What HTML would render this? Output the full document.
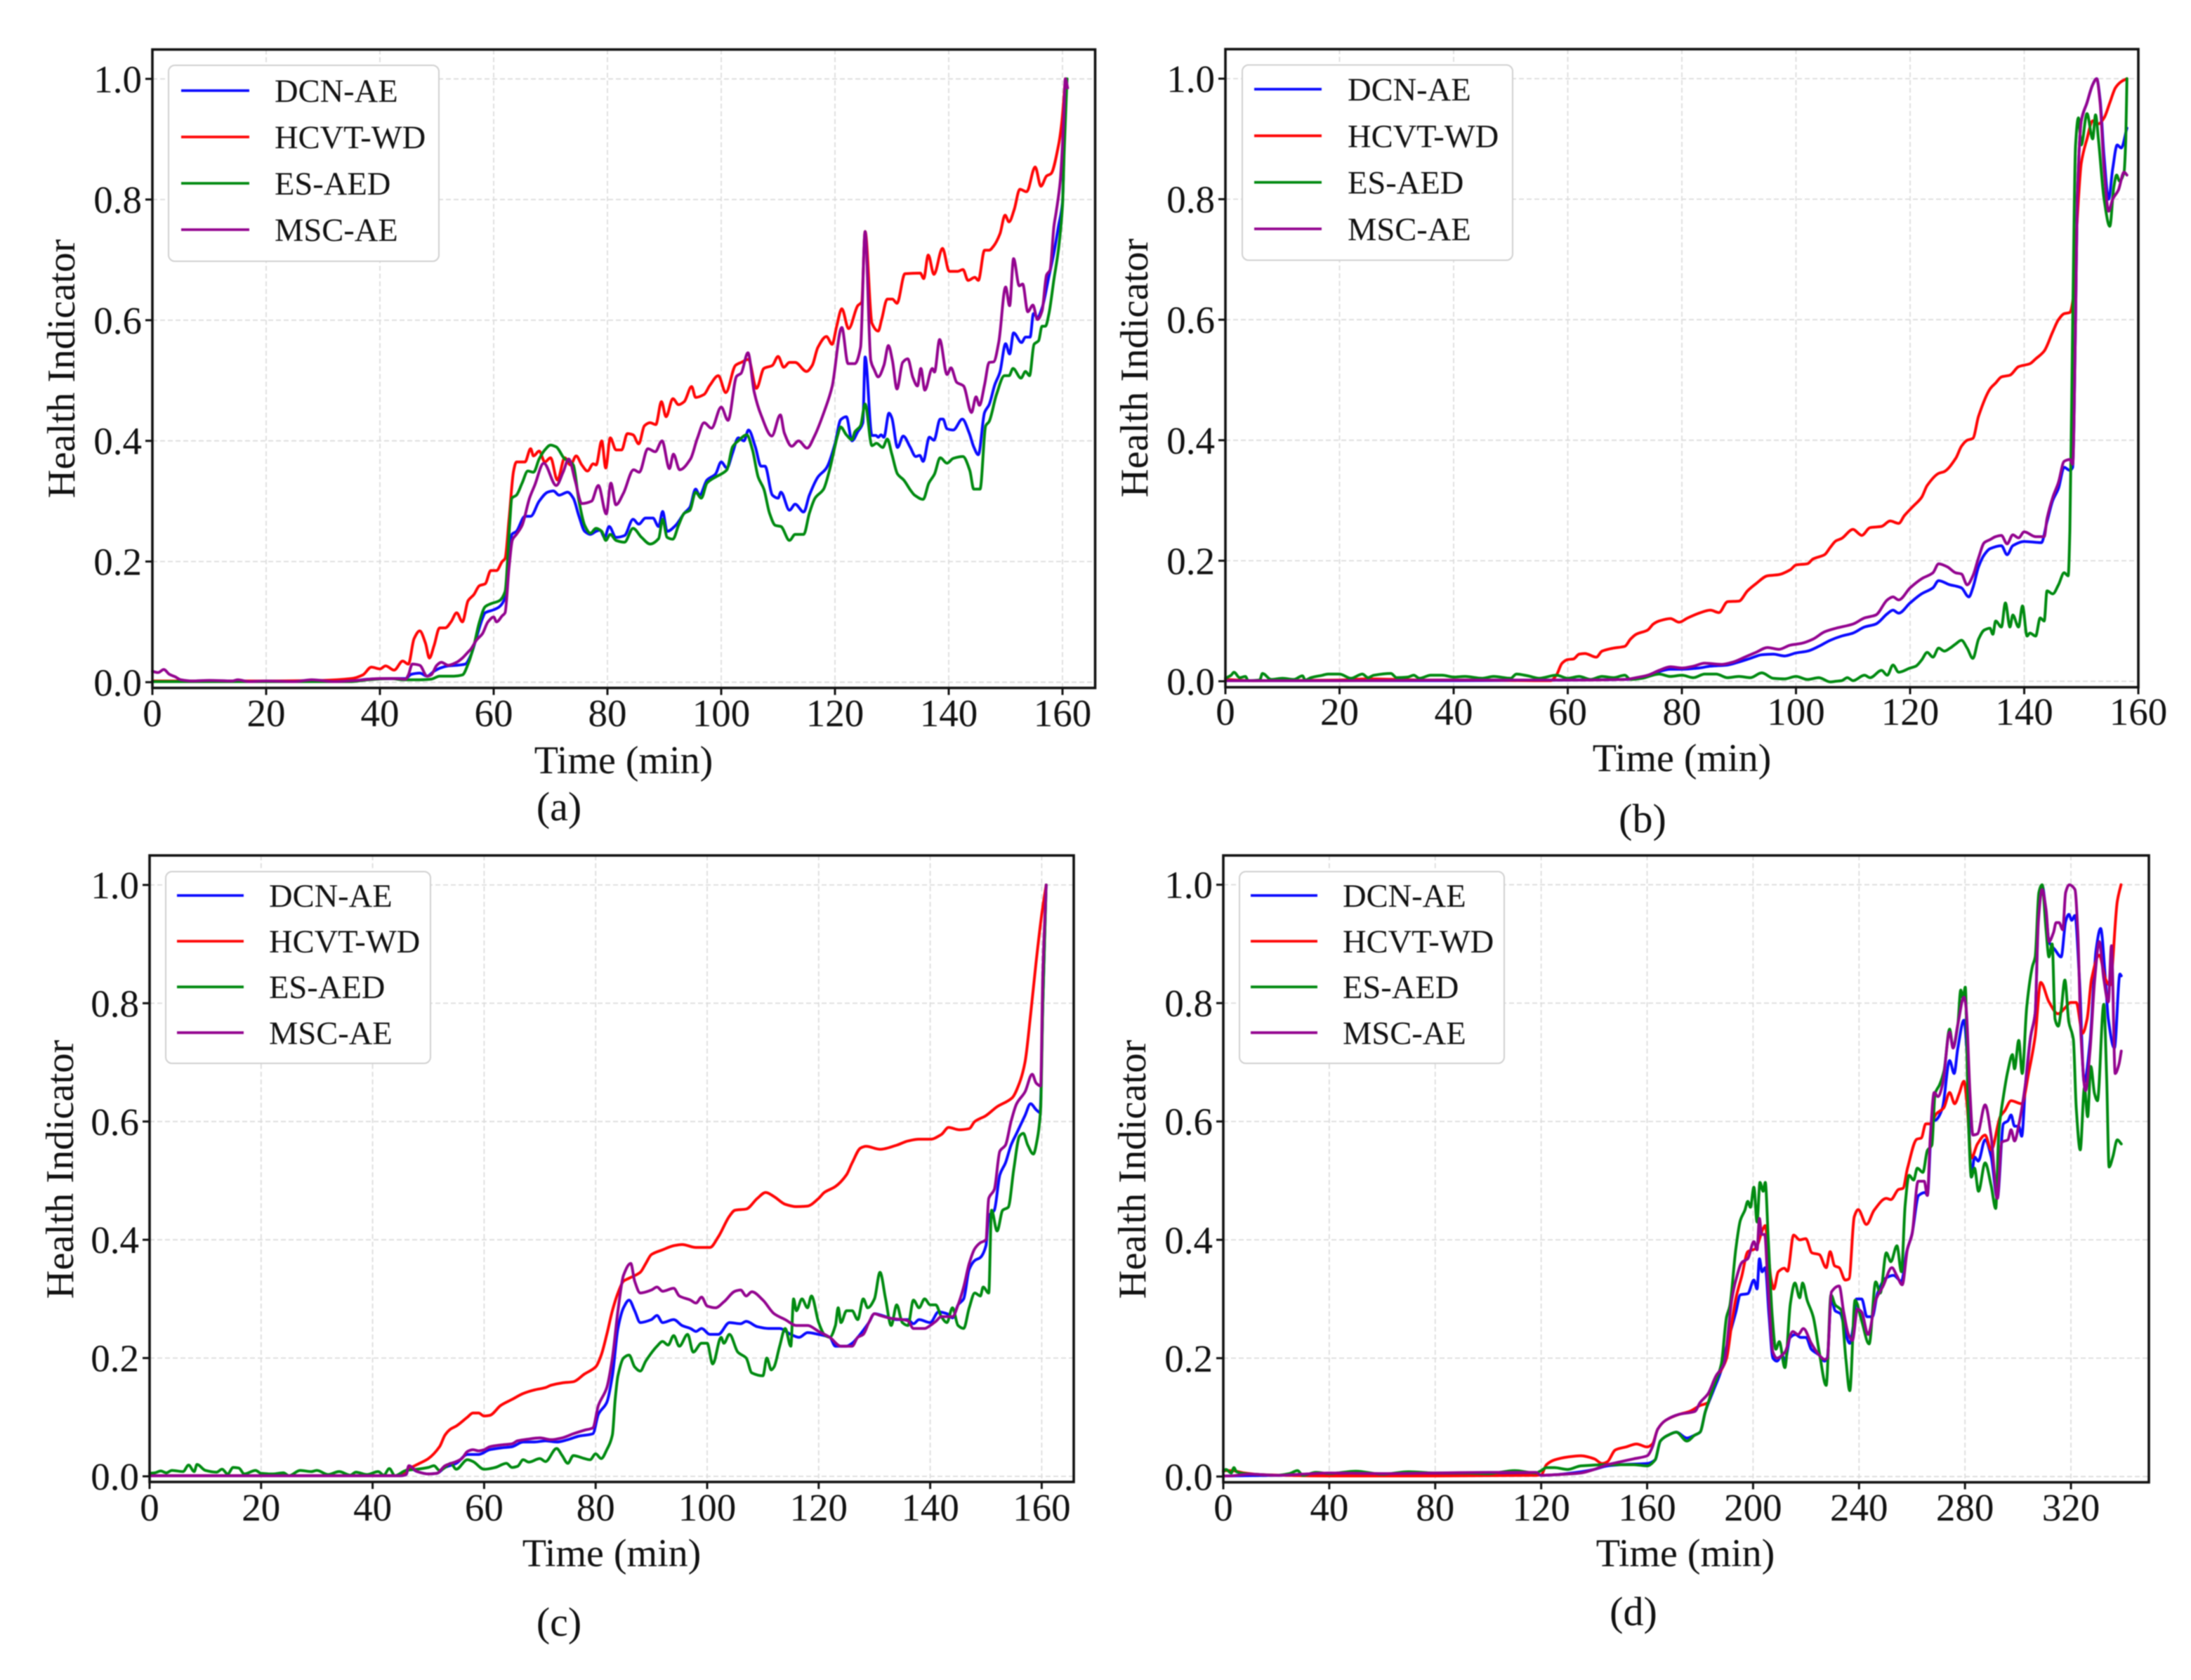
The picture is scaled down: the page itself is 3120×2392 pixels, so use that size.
<!DOCTYPE html>
<html lang="en">
<head>
<meta charset="utf-8">
<title>Health Indicator comparison</title>
<style>
html,body{margin:0;padding:0;background:#fff;}
svg{display:block;filter:blur(0.7px);font-family:"Liberation Serif",serif;}
</style>
</head>
<body>
<svg id="figure" xmlns="http://www.w3.org/2000/svg" width="3120" height="2392" viewBox="0 0 3120 2392"></svg>
<script>
// Tick labels
const xTicksStd = [0,20,40,60,80,100,120,140,160];
const xTicksLong = [0,40,80,120,160,200,240,280,320];
const yTicks = [0,0.2,0.4,0.6,0.8,1.0];
const seriesNames = ["DCN-AE","HCVT-WD","ES-AED","MSC-AE"];

// Panel (a): [time, health indicator]
const aDcn = [[0,.001],[20,.001],[35,.002],[38,.005],[43,.006],[44.5,.006],[45.5,.013],[47,.015],[48.3,.01],[49.5,.018],[50.5,.023],[52,.027],[53.5,.028],[55,.03],[56,.045],[57,.075],[58,.105],[58.5,.115],[60,.12],[61,.125],[62,.14],[62.7,.2],[63.2,.245],[64,.25],[65.5,.275],[66.5,.275],[68,.3],[69.5,.315],[70.5,.317],[71.5,.31],[73,.315],[74,.305],[75,.275],[76,.25],[77,.245],[78,.25],[78.7,.252],[79.5,.24],[80.3,.258],[81.5,.24],[83,.243],[84.5,.27],[85.5,.262],[86.7,.272],[88,.272],[89,.258],[89.7,.283],[90.5,.25],[92,.26],[93.5,.28],[94.5,.29],[95.5,.32],[96.2,.31],[97.5,.335],[99,.345],[100,.365],[101,.355],[102,.38],[103,.405],[104,.4],[104.8,.418],[106,.39],[107,.358],[107.7,.358],[109,.31],[110,.305],[110.5,.315],[112,.285],[113,.295],[114.5,.282],[115.5,.31],[117,.34],[118.5,.355],[120,.395],[121,.435],[122,.44],[123,.4],[124,.415],[124.9,.43],[125.3,.539],[126.5,.409],[127.2,.409],[127.6,.406],[128.1,.41],[128.6,.406],[129.5,.446],[130,.438],[131,.389],[132,.408],[133.2,.39],[134.2,.374],[134.9,.376],[135.5,.366],[136.6,.406],[137.4,.401],[138.5,.436],[139,.436],[139.7,.42],[140.8,.418],[142.4,.436],[143.6,.413],[144.4,.39],[145.2,.377],[146.3,.447],[147.1,.46],[148.1,.493],[149,.514],[150,.561],[150.7,.544],[151.4,.579],[152.8,.563],[153.5,.572],[154.3,.572],[154.9,.611],[155.6,.605],[156.4,.62],[157.6,.672],[158.5,.712],[159.3,.756],[160,.795],[160.3,.9],[160.6,1.0]];
const aHcvt = [[0,.002],[10,.002],[20,.002],[30,.003],[35,.006],[37,.012],[38.5,.025],[40,.022],[41,.027],[42.5,.02],[44,.035],[45,.03],[46,.072],[47,.085],[48,.065],[48.7,.04],[49.5,.06],[50.5,.09],[51.5,.09],[52.5,.1],[53.5,.115],[54.5,.1],[55.5,.135],[56.5,.145],[57.5,.16],[58.5,.163],[59.5,.185],[60.5,.185],[61.5,.2],[62,.205],[62.7,.27],[63.5,.35],[64,.365],[65.5,.365],[66.5,.387],[67,.375],[68,.383],[69,.365],[70,.372],[71.2,.335],[72.5,.372],[73.5,.36],[74.5,.375],[75.5,.36],[76.5,.35],[77.5,.362],[78,.36],[79,.4],[79.7,.355],[80.5,.405],[81.5,.385],[82.5,.385],[83.5,.412],[84.5,.41],[85.5,.395],[86.5,.425],[87.5,.43],[88.5,.427],[89.5,.465],[90.3,.44],[91.5,.47],[92.5,.46],[93.5,.465],[94.8,.49],[95.5,.472],[97,.477],[98,.492],[99.5,.508],[100.8,.48],[102.5,.525],[103.5,.53],[104.8,.535],[106.2,.487],[107.5,.52],[109,.525],[110,.54],[111,.522],[112,.53],[113,.53],[115,.515],[116,.525],[117,.555],[118.5,.573],[119.5,.56],[120.3,.59],[121.2,.619],[122.4,.586],[124,.624],[124.7,.63],[125.3,.747],[126.5,.595],[127.6,.582],[128.2,.601],[129.2,.635],[130.1,.635],[130.9,.628],[132.3,.677],[135,.678],[135.6,.669],[136.4,.708],[137.4,.676],[138.9,.719],[140.1,.681],[141.6,.681],[142.5,.684],[143.4,.666],[144.6,.671],[145.2,.666],[146.3,.716],[147.1,.716],[147.9,.723],[149,.743],[149.9,.774],[150.6,.763],[151.5,.783],[152.5,.817],[153.7,.813],[155.2,.854],[156.2,.822],[157.2,.839],[158,.843],[159.3,.89],[159.9,.93],[160.5,1.0]];
const aEsaed = [[0,.001],[20,.001],[35,.001],[38,.004],[42,.006],[44,.004],[47,.004],[49,.005],[50.5,.01],[53,.01],[54.5,.012],[55.5,.03],[56.5,.06],[57.5,.1],[58.5,.125],[59.5,.13],[61,.135],[62,.15],[62.8,.26],[63.2,.305],[64,.31],[65,.33],[66,.35],[67,.348],[68,.37],[69,.385],[70,.393],[71,.39],[72.5,.37],[73.5,.365],[74,.36],[75,.3],[76,.26],[77,.247],[78,.255],[79,.25],[79.7,.235],[80.5,.245],[81.5,.235],[83,.232],[84.5,.255],[86,.24],[87.5,.229],[89,.238],[89.7,.27],[90.5,.24],[91.5,.237],[92.5,.26],[93.5,.28],[94.5,.285],[95.5,.315],[96.5,.305],[97.5,.33],[99,.34],[100,.345],[101,.352],[102,.39],[103,.4],[104.5,.41],[105.5,.385],[106.5,.34],[107.5,.32],[108.5,.28],[109.5,.26],[110.5,.258],[112,.235],[113,.245],[114.5,.245],[115.5,.28],[116.5,.305],[118,.32],[119,.35],[120.5,.41],[121,.423],[122,.41],[123,.402],[123.5,.415],[124.5,.425],[125.3,.461],[126.5,.392],[127.3,.396],[128.4,.389],[129.2,.403],[130,.378],[131,.345],[132.1,.335],[133.3,.318],[134,.31],[135.5,.303],[136.5,.33],[137.5,.345],[138.5,.372],[139.7,.363],[140.8,.371],[142.5,.374],[143.7,.351],[144.4,.32],[145.5,.32],[146.5,.425],[147.1,.432],[148.4,.477],[149.8,.508],[150.6,.508],[151.3,.52],[152.7,.504],[153.5,.515],[154.2,.508],[155,.56],[155.8,.566],[156.4,.59],[157,.59],[157.6,.61],[158.5,.668],[159.3,.718],[160,.79],[160.3,.88],[160.8,1.0]];
const aMsc = [[0,.018],[1,.016],[2,.021],[3,.013],[4,.009],[5,.004],[7,.002],[10,.003],[14,.002],[15,.004],[17,.001],[20,.002],[25,.001],[28,.004],[32,.001],[36,.003],[40,.006],[43,.006],[44.5,.005],[45,.012],[45.7,.03],[47,.028],[48.3,.01],[49,.012],[50,.028],[50.8,.033],[52,.028],[53.5,.033],[54.5,.04],[55.5,.05],[56,.055],[57,.07],[58,.08],[59,.1],[60,.108],[60.5,.1],[61.5,.11],[62,.115],[62.7,.19],[63.3,.236],[64,.245],[65,.26],[66.3,.305],[67.2,.326],[68.8,.363],[71,.326],[72.2,.348],[73.2,.37],[74.3,.335],[75.5,.296],[77.2,.3],[78.4,.326],[79.8,.279],[80.6,.33],[81.5,.294],[82.8,.313],[84.6,.352],[85.6,.348],[87.1,.387],[88.4,.382],[89.6,.4],[90.9,.354],[91.6,.378],[92.7,.352],[94.6,.37],[95.8,.404],[97,.43],[98.3,.421],[100,.456],[101.2,.434],[102.7,.507],[103.5,.512],[104.7,.546],[105.8,.481],[107,.443],[108.9,.408],[110.4,.443],[111.1,.413],[112.4,.391],[113.6,.4],[115.1,.388],[116.4,.408],[118.2,.451],[119.5,.49],[121.2,.588],[122.3,.528],[123.5,.528],[124.5,.555],[125.3,.747],[126.3,.533],[126.9,.518],[127.6,.506],[128.6,.525],[129.4,.558],[130.1,.533],[130.9,.486],[131.9,.53],[132.8,.536],[133.7,.505],[134.5,.491],[135.1,.52],[135.8,.484],[137.1,.52],[137.5,.514],[138.4,.568],[139.7,.51],[140.4,.521],[141.4,.497],[142.6,.491],[144,.447],[144.8,.473],[145.4,.459],[146.3,.493],[147.1,.53],[147.9,.531],[148.8,.564],[150,.655],[150.7,.624],[151.4,.702],[152.4,.657],[153,.66],[153.9,.614],[154.8,.625],[155.6,.601],[156.4,.615],[157.2,.675],[157.8,.683],[158.5,.756],[158.9,.78],[159.6,.83],[160.2,.93],[160.5,1.0],[160.9,.985]];

// Panel (b)
const bDcn = [[0,.001],[20,.001],[40,.001],[60,.002],[70,.003],[74,.008],[76,.016],[78,.02],[80,.02],[83,.022],[85,.025],[88,.027],[90,.032],[92,.038],[94,.044],[96,.045],[98,.042],[100,.047],[102,.05],[104,.058],[106,.068],[108,.075],[110,.08],[112,.09],[114,.095],[116,.112],[117,.118],[118,.113],[120,.13],[122,.145],[124,.155],[125,.167],[127,.16],[128,.158],[129,.155],[130.3,.14],[131,.155],[132,.19],[133,.21],[134,.22],[136,.225],[137,.21],[138,.225],[140,.232],[143,.23],[144,.265],[145,.3],[146,.32],[147,.355],[148,.35],[148.5,.355],[149,.6],[149.3,.8],[150,.93],[151,.96],[152,.99],[152.7,1.0],[153.3,.965],[154,.87],[154.8,.8],[155.5,.85],[156.3,.89],[157,.885],[158,.918]];
const bHcvt = [[0,.003],[5,.001],[20,.002],[25,.004],[35,.002],[45,.002],[55,.001],[57,.001],[58,.01],[59,.03],[60,.036],[61,.037],[62,.045],[63,.046],[65,.04],[66,.05],[68,.055],[70,.058],[71,.07],[72,.078],[74,.085],[75,.095],[76,.1],[78,.104],[79.5,.098],[81,.105],[83,.113],[85,.118],[86.5,.114],[88,.132],[90,.133],[91.5,.15],[93,.162],[95,.175],[97,.177],[99,.185],[100,.193],[102,.195],[103,.203],[105,.21],[106,.222],[107,.233],[108,.237],[110,.252],[111,.245],[111.5,.242],[113,.255],[115,.257],[116.5,.266],[118,.262],[119,.275],[120.5,.29],[122,.305],[123,.325],[125,.345],[126,.348],[128,.37],[129,.39],[130,.4],[131,.403],[132,.44],[134,.485],[135,.495],[136,.505],[137.5,.508],[139,.522],[141,.527],[142,.535],[143.5,.548],[145,.58],[146,.6],[147,.61],[148,.612],[148.5,.63],[149,.72],[149.5,.8],[150,.86],[151,.9],[152,.93],[153,.925],[154,.935],[155,.96],[156,.985],[157,.995],[158,1.0]];
const bEsaed = [[0,.005],[1,.01],[1.5,.015],[2.5,.006],[3.5,.008],[4,.001],[6,.002],[6.5,.013],[8,.003],[10,.005],[12,.003],[13.5,.009],[14,.002],[15,.006],[17,.01],[18,.012],[20,.012],[22,.005],[24,.012],[25,.006],[26,.01],[29,.013],[30,.006],[32,.007],[33,.01],[34,.005],[36,.01],[38,.01],[40,.007],[42,.008],[45,.005],[47,.008],[50,.005],[51,.012],[53,.009],[55,.005],[58,.01],[60,.005],[62,.008],[64,.003],[66,.008],[68,.006],[70,.01],[71,.003],[73,.005],[76,.012],[78,.008],[80,.01],[82,.006],[84,.012],[86,.012],[88,.006],[90,.008],[92,.006],[94,.014],[96,.005],[98,.004],[100,.008],[102,.003],[104,.006],[106,-.001],[107,0],[108,.001],[109,.006],[110,.001],[112,.01],[113,.006],[115,.018],[116,.01],[117,.027],[118,.015],[120,.022],[121,.025],[122,.035],[123,.048],[124,.04],[125,.055],[126,.05],[127,.055],[128,.062],[129,.068],[130,.055],[131,.038],[132,.07],[133,.085],[134,.088],[134.5,.078],[135,.1],[136,.09],[136.7,.13],[137.5,.09],[138,.11],[139,.09],[139.7,.125],[140.5,.075],[141,.08],[142,.075],[142.8,.105],[143.5,.1],[144,.15],[145,.145],[146,.16],[147,.18],[147.7,.175],[148,.25],[148.5,.6],[149,.89],[149.5,.935],[150,.89],[151,.942],[152,.9],[152.5,.94],[153,.9],[154,.8],[155,.755],[155.7,.82],[156.2,.84],[156.7,.83],[157.5,.845],[157.8,.9],[158,1.0]];
const bMsc = [[0,.001],[20,.001],[40,.002],[60,.002],[70,.003],[72,.006],[74,.01],[76,.018],[78,.024],[80,.022],[82,.025],[84,.03],[87,.028],[89,.032],[91,.04],[93,.048],[95,.056],[97,.053],[99,.06],[101,.063],[103,.07],[105,.082],[107,.088],[110,.095],[112,.105],[114,.11],[116,.135],[117,.14],[118,.135],[120,.155],[122,.17],[124,.18],[125,.195],[126.5,.19],[128,.18],[129,.178],[130,.16],[131,.175],[132,.205],[133,.23],[134,.235],[135,.24],[136,.242],[137,.228],[138,.243],[139,.238],[140,.248],[142,.24],[143.5,.24],[144,.27],[145,.305],[146,.33],[147,.365],[148,.368],[148.5,.36],[149,.6],[149.3,.8],[150,.93],[151,.96],[152,.99],[152.7,1.0],[153.3,.96],[154,.85],[154.8,.78],[155.5,.8],[156.5,.815],[157.5,.845],[158,.84]];

// Panel (c)
const cDcn = [[0,.001],[45,.001],[46,.003],[46.5,.015],[48,.008],[50,.004],[51.5,.005],[53,.015],[55,.022],[57,.037],[59,.037],[61,.045],[63,.048],[65,.05],[67,.058],[69,.058],[71,.06],[73,.058],[75,.062],[77,.068],[79.5,.072],[80.5,.105],[82,.125],[83,.17],[84,.25],[85,.285],[86,.298],[87,.28],[88,.26],[90,.265],[91,.272],[92,.26],[94,.265],[95.5,.255],[97,.25],[98,.245],[99,.25],[100.5,.24],[102,.24],[104,.26],[106,.258],[107,.262],[109,.253],[111,.25],[113,.25],[115,.24],[116.5,.235],[118,.243],[120,.24],[122,.235],[123,.22],[125,.22],[126,.225],[127,.235],[129,.26],[130,.275],[132,.27],[134,.265],[136,.265],[137,.258],[138,.265],[140,.26],[141.5,.278],[143,.275],[144,.268],[145,.29],[146,.3],[147,.35],[148,.365],[149,.37],[150,.39],[150.5,.44],[151.5,.45],[152.5,.51],[153.5,.53],[154.5,.56],[155.5,.58],[157,.61],[158,.63],[159,.62],[159.7,.615],[160.2,.8],[160.8,1.0]];
const cHcvt = [[0,.001],[40,.001],[45,.001],[46,.01],[48,.02],[50,.03],[52,.05],[53,.07],[54,.08],[55,.085],[57,.1],[58,.107],[59,.107],[60,.102],[61,.103],[63,.12],[65,.13],[67,.14],[69,.146],[71,.15],[72,.154],[74,.158],[76,.16],[78,.173],[80,.185],[81,.205],[82,.24],[83,.28],[84,.31],[85,.33],[86,.335],[88,.345],[89,.36],[90,.375],[92,.383],[94,.39],[95.5,.392],[98,.387],[100.5,.387],[102,.405],[104,.44],[105,.45],[107,.452],[109,.47],[110.5,.48],[112,.473],[114,.46],[116,.456],[118,.457],[120,.47],[121,.48],[123,.49],[125,.51],[126,.53],[127.5,.555],[128.5,.558],[131,.553],[134,.56],[136,.567],[138,.57],[140,.57],[142,.578],[143.3,.59],[145.2,.586],[147,.588],[148,.6],[150,.61],[152,.625],[154.7,.64],[156,.665],[157,.7],[158,.78],[159,.87],[160,.95],[160.8,1.0]];
const cEsaed = [[0,.005],[1,.006],[2,.009],[3,.006],[4,.01],[6,.008],[7,.019],[8,.008],[8.5,.02],[10,.01],[12,.007],[13,.012],[14,.004],[15,.015],[16,.014],[17,.004],[19,.01],[20,.005],[22,.004],[24,.006],[25,.001],[27,.01],[29,.008],[30,.01],[32,.003],[34,.008],[36,.002],[37,.007],[39,.003],[41,.008],[42,.002],[43,.013],[44,.001],[46,.01],[48,.012],[50,.015],[51,.018],[52,.01],[53,.015],[54,.022],[55,.012],[57,.028],[58,.025],[60,.012],[62,.015],[64,.022],[65,.015],[66,.017],[67,.028],[68,.024],[70,.03],[71,.025],[73,.047],[74,.035],[75,.022],[76,.035],[78,.03],[79,.028],[80,.038],[81,.03],[82,.045],[83,.07],[83.5,.13],[84,.17],[85,.2],[86,.205],[87,.185],[88,.178],[89,.195],[91,.22],[92,.228],[93,.222],[94,.238],[95,.22],[96.5,.24],[97.5,.21],[99,.225],[100,.225],[101,.19],[102.5,.235],[103,.225],[104,.24],[105.5,.21],[107,.2],[108,.175],[110,.17],[110.7,.2],[111.5,.18],[112,.185],[113,.22],[114,.25],[115,.22],[115.5,.3],[116,.28],[117,.3],[118,.285],[118.7,.305],[120,.26],[121,.24],[122,.235],[123,.255],[123.5,.285],[124,.26],[125,.28],[126,.28],[127,.265],[128,.3],[128.8,.285],[130,.3],[131,.345],[132,.3],[133,.255],[134,.29],[135,.26],[136,.255],[137,.298],[138,.285],[139,.3],[140,.29],[141,.29],[142,.27],[143,.26],[144,.285],[145,.255],[146,.25],[147,.285],[148,.31],[149,.305],[149.5,.32],[150.5,.31],[151,.45],[152,.415],[153,.45],[154,.455],[155,.52],[156,.575],[156.7,.58],[157.5,.56],[158.5,.545],[159.2,.57],[159.8,.62],[160.2,.8],[160.8,1.0]];
const cMsc = [[0,.001],[45,.001],[46,.003],[46.5,.018],[48,.008],[50,.004],[51.5,.005],[53,.018],[55,.025],[56,.03],[57,.042],[58,.045],[59,.043],[60,.045],[61,.05],[63,.053],[65,.055],[66,.06],[68,.063],[70,.065],[72,.062],[74,.065],[76,.072],[78,.078],[79.5,.082],[80.5,.12],[82,.15],[83,.2],[84,.28],[85,.34],[86.3,.36],[87,.33],[88,.31],[90,.315],[91,.32],[92,.313],[94,.318],[95,.305],[97,.298],[98,.293],[99,.303],[100,.288],[101.5,.285],[103,.295],[105,.313],[106,.315],[107,.305],[108,.312],[110,.298],[112,.275],[114,.265],[116,.255],[118,.255],[120,.245],[122,.235],[124,.22],[126,.22],[127,.235],[128,.24],[129,.26],[130,.275],[131,.272],[133,.267],[135,.265],[136,.263],[137,.25],[139,.25],[140,.255],[141,.262],[142,.27],[144,.27],[145,.29],[146,.32],[147,.36],[148,.385],[149,.395],[150,.4],[150.5,.47],[151.5,.485],[152.5,.55],[153.5,.56],[154.5,.6],[155.5,.63],[157,.65],[158.3,.68],[159,.665],[159.8,.66],[160.2,.85],[160.8,1.0]];

// Panel (d)
const dDcn = [[0,.001],[20,.002],[60,.003],[118,.005],[120,.002],[125,.003],[135,.008],[140,.012],[145,.018],[150,.02],[160,.022],[163,.028],[165,.06],[168,.07],[171,.075],[175,.065],[178,.07],[180,.075],[182,.11],[185,.145],[188,.18],[190,.22],[193.5,.278],[195.2,.307],[198,.309],[200.3,.332],[201.5,.317],[202.4,.368],[203.4,.346],[204.6,.353],[206,.273],[207.5,.2],[209,.195],[211,.205],[212,.195],[214,.235],[216,.24],[218,.235],[220,.235],[222,.215],[225,.205],[227,.195],[228,.2],[229.5,.3],[231,.28],[233,.275],[235,.24],[236.5,.225],[238,.26],[239,.3],[241,.3],[243,.27],[245,.27],[247,.31],[250,.335],[253,.34],[256,.33],[258,.38],[260,.41],[262.5,.475],[265,.48],[265.8,.475],[267.5,.599],[269.2,.603],[271.5,.623],[274.2,.703],[275.9,.681],[277.3,.724],[279.6,.771],[280.7,.72],[282.4,.506],[283.6,.54],[285,.533],[287.6,.569],[289.9,.54],[292.2,.47],[294.5,.596],[296.2,.601],[297.4,.611],[298.7,.592],[300.3,.592],[301.4,.575],[302.9,.666],[304.8,.744],[306.5,.783],[307.7,.948],[309.1,.999],[310.6,.953],[311.7,.904],[314,.89],[316.3,.878],[318,.938],[319.2,.95],[320.3,.94],[321.5,.948],[323.2,.841],[325,.666],[327.2,.734],[329.5,.89],[331.2,.926],[333,.841],[334.1,.773],[336.4,.724],[338.5,.849],[339,.846]];
const dHcvt = [[0,.01],[3,.01],[8,.006],[15,.003],[40,.001],[80,.001],[118,.002],[120,.003],[122,.02],[125,.028],[130,.033],[135,.035],[140,.03],[143,.022],[145,.025],[148,.045],[152,.05],[156,.055],[160,.05],[162,.055],[164,.08],[167,.095],[172,.105],[176,.11],[180,.12],[183,.125],[185,.16],[188,.18],[190,.2],[192,.26],[193.5,.301],[195.8,.34],[198,.38],[200.9,.385],[203.8,.419],[204.6,.424],[205.5,.39],[206.7,.336],[207.8,.317],[209.5,.346],[211.8,.352],[213,.347],[215.3,.408],[217.6,.4],[219.9,.402],[222.2,.378],[225,.375],[227.6,.353],[229.1,.38],[230.8,.356],[232.5,.353],[234.8,.332],[236.2,.334],[238.2,.439],[239.7,.451],[242.8,.426],[245.7,.45],[250.3,.47],[252,.468],[254.9,.485],[256.6,.487],[258.3,.521],[261.8,.57],[263.5,.572],[265.2,.596],[266.9,.596],[269.2,.613],[272,.623],[274.2,.649],[276.1,.63],[277.8,.647],[279.6,.668],[280.7,.633],[282.4,.538],[284.7,.562],[287.6,.577],[289.9,.552],[293.3,.608],[295,.618],[297.4,.635],[301.4,.63],[304.2,.686],[306.5,.744],[308.6,.835],[311.7,.802],[315.1,.782],[318,.793],[319.8,.801],[322,.801],[324.4,.749],[326.1,.773],[327.8,.841],[330.7,.881],[333,.841],[334.7,.83],[337.5,.972],[338.9,1.0]];
const dEsaed = [[0,.008],[1,.012],[3,.006],[4,.015],[5,.008],[8,.005],[15,.003],[20,.002],[25,.005],[28,.01],[30,.002],[35,.007],[40,.005],[50,.009],[60,.004],[70,.008],[80,.006],[90,.006],[100,.005],[110,.01],[118,.006],[120,.01],[122,.015],[125,.015],[130,.012],[135,.018],[145,.02],[150,.02],[155,.02],[160,.018],[163,.028],[165,.06],[168,.07],[171,.075],[175,.06],[178,.07],[180,.075],[182,.11],[185,.15],[188,.19],[190,.27],[191.2,.288],[193.5,.385],[195.2,.433],[196.9,.45],[198,.465],[199,.455],[200.3,.489],[201.5,.43],[202.6,.497],[203.8,.482],[204.6,.497],[205.7,.404],[207.2,.273],[208.6,.215],[209.9,.228],[212,.184],[214.1,.293],[215.8,.327],[217.6,.302],[218.7,.327],[220.4,.298],[222.7,.27],[225,.21],[227.6,.154],[229.4,.307],[231,.29],[233.3,.281],[235,.2],[236.5,.145],[238.5,.298],[241,.263],[243.8,.224],[246.3,.329],[248,.31],[250.3,.378],[252,.363],[254.3,.39],[256,.346],[257.4,.458],[258.9,.509],[260.6,.501],[262,.521],[264.1,.514],[265.8,.551],[267.5,.56],[268.7,.647],[270.4,.662],[272.1,.686],[274.2,.756],[275.5,.725],[277.3,.764],[278.4,.822],[279.3,.807],[280.1,.827],[281.3,.6],[282.4,.506],[283.6,.521],[285.1,.482],[287.6,.53],[289.9,.491],[291.6,.453],[292.8,.584],[294.5,.642],[296.2,.686],[297.9,.713],[298.7,.689],[300.3,.737],[301.6,.681],[303.3,.793],[305.4,.861],[306.5,.878],[307.9,.987],[309.1,1.0],[310.6,.924],[311.7,.878],[312.9,.9],[314,.773],[315.2,.761],[316.3,.788],[317.7,.839],[319.2,.768],[320.9,.739],[322,.623],[323.5,.552],[325.1,.657],[326.3,.608],[327.5,.693],[328.9,.647],[330,.635],[332.4,.798],[333.5,.671],[334.4,.523],[335.8,.54],[337.5,.569],[339,.562]];
const dMsc = [[0,.001],[2,.001],[10,.004],[20,.002],[30,.004],[40,.006],[60,.005],[80,.006],[100,.007],[118,.007],[120,.002],[125,.003],[135,.006],[140,.012],[145,.02],[150,.025],[155,.03],[160,.035],[162,.05],[164,.08],[167,.095],[172,.105],[178,.11],[180,.125],[183,.14],[186,.17],[189,.19],[192,.3],[193.5,.332],[195.8,.362],[198,.368],[200.3,.397],[201.5,.383],[202.4,.436],[203.2,.409],[204.4,.409],[205.5,.332],[207.5,.21],[209,.2],[212,.21],[215,.245],[217,.24],[219,.25],[222,.225],[225,.205],[227,.198],[228,.2],[229.6,.312],[232.5,.322],[234.2,.278],[236,.24],[237.5,.23],[239.4,.283],[241,.278],[243.4,.24],[246.3,.298],[249.1,.322],[252.4,.353],[254.3,.339],[256.3,.324],[258.3,.385],[260,.409],[262.3,.499],[264.6,.499],[265.8,.475],[266.9,.574],[268.4,.649],[269.8,.642],[271.5,.662],[274.2,.751],[275.5,.724],[277.3,.764],[279.6,.81],[280.4,.793],[281.9,.647],[283,.577],[284.7,.579],[287.6,.628],[289.9,.574],[292.2,.47],[293.9,.565],[296.2,.569],[297.4,.586],[298.7,.567],[300.3,.594],[302.9,.666],[304.8,.744],[306.5,.783],[307.7,.938],[309.1,.992],[310.6,.958],[311.7,.904],[313.4,.919],[314.4,.936],[315.5,.936],[316.9,.924],[318,.987],[319.4,1.0],[321.5,.992],[322.6,.919],[323.8,.744],[325.5,.652],[327.2,.72],[329,.841],[330.7,.904],[332.4,.841],[334.1,.802],[335.3,.897],[336.7,.681],[338.1,.696],[339,.719]];

const colors = ["#0a0aff","#ff0505","#008a10","#93048f"];
const NS = "http://www.w3.org/2000/svg";
const root = document.getElementById("figure");

function make(parent, tag, attrs, text) {
  const e = document.createElementNS(NS, tag);
  for (const k in attrs) e.setAttribute(k, attrs[k]);
  if (text !== undefined) e.textContent = text;
  parent.appendChild(e);
  return e;
}

// Monotone cubic path so peaks stay rounded without overshoot
function monotonePath(pts) {
  const n = pts.length;
  const dx = [], s = [], m = [];
  for (let i = 0; i < n - 1; i++) {
    dx[i] = Math.max(pts[i + 1][0] - pts[i][0], 0.001);
    s[i] = (pts[i + 1][1] - pts[i][1]) / dx[i];
  }
  m[0] = s[0];
  m[n - 1] = s[n - 2];
  for (let i = 1; i < n - 1; i++) {
    if (s[i - 1] * s[i] <= 0) m[i] = 0;
    else m[i] = 2 * s[i - 1] * s[i] / (s[i - 1] + s[i]);
  }
  let d = "M" + pts[0][0].toFixed(2) + " " + pts[0][1].toFixed(2);
  for (let i = 0; i < n - 1; i++) {
    const h = dx[i] / 3;
    d += "C" + (pts[i][0] + h).toFixed(2) + " " + (pts[i][1] + m[i] * h).toFixed(2) + " "
      + (pts[i + 1][0] - h).toFixed(2) + " " + (pts[i + 1][1] - m[i + 1] * h).toFixed(2) + " "
      + pts[i + 1][0].toFixed(2) + " " + pts[i + 1][1].toFixed(2);
  }
  return d;
}

function drawPanel(p) {
  const g = make(root, "g", {});
  
  

  const xScale = t => p.x0 + t * p.pxPerMin;
  const yScale = v => p.y0 + (p.y1 - p.y0) * v;

  // grid
  const grid = make(g, "g", {stroke: "#dcdcdc", "stroke-width": 1.8, "stroke-dasharray": "7 4", fill: "none"});
  
  
  p.xTicks.forEach(t => {
    const gl = make(grid, "line", {x1: xScale(t), x2: xScale(t), y1: p.top, y2: p.bottom});
    
    
  });
  yTicks.forEach(v => {
    const gl = make(grid, "line", {x1: p.left, x2: p.right, y1: yScale(v), y2: yScale(v)});
    
    
  });

  // series
  p.series.forEach((data, i) => {
    const pts = data.map(d => [xScale(d[0]), yScale(d[1])]);
    const line = make(g, "path", {d: monotonePath(pts), fill: "none", stroke: colors[i], "stroke-width": 4, "stroke-linejoin": "round", "stroke-linecap": "round"});
    
    
  });

  // spines
  const frame = make(g, "rect", {x: p.left, y: p.top, width: p.right - p.left, height: p.bottom - p.top, fill: "none", stroke: "#111", "stroke-width": 3.6});
  
  

  // ticks and tick labels
  p.xTicks.forEach(t => {
    const tick = make(g, "line", {x1: xScale(t), x2: xScale(t), y1: p.bottom, y2: p.bottom + 10, stroke: "#111", "stroke-width": 3});
    
    
    const lab = make(g, "text", {x: xScale(t), y: p.xTickBase, "text-anchor": "middle", "font-size": 55, fill: "#111"}, String(t));
    
    
  });
  yTicks.forEach(v => {
    const tick = make(g, "line", {x1: p.left - 10, x2: p.left, y1: yScale(v), y2: yScale(v), stroke: "#111", "stroke-width": 3});
    
    
    const lab = make(g, "text", {x: p.left - 15, y: yScale(v) + 19, "text-anchor": "end", "font-size": 55, fill: "#111"}, v.toFixed(1));
    
    
  });

  // axis titles and caption
  const xt = make(g, "text", {x: p.xLabelX, y: p.xLabelY, "text-anchor": "middle", "font-size": 56, fill: "#111"}, "Time (min)");
  
  
  const yt = make(g, "text", {transform: "translate(" + p.yLabelX + " " + p.yLabelY + ") rotate(-90)", "text-anchor": "middle", "font-size": 56.5, fill: "#111"}, "Health Indicator");
  
  
  const cap = make(g, "text", {x: p.capX, y: p.capY, "text-anchor": "middle", "font-size": 58, fill: "#111"}, "(" + p.id + ")");
  
  

  // legend
  const lg = make(g, "g", {});
  
  
  const box = make(lg, "rect", {x: p.legX, y: p.legY, width: p.legW, height: p.legH, rx: 9, fill: "#fff", stroke: "#d0d0d0", "stroke-width": 2});
  
  
  seriesNames.forEach((name, i) => {
    const y = p.legRow0 + i * p.legRowGap;
    const sw = make(lg, "line", {x1: p.legLine0, x2: p.legLine1, y1: y, y2: y, stroke: colors[i], "stroke-width": 3.8});
    
    
    const tx = make(lg, "text", {x: p.legText, y: y + 16, "font-size": 46.5, fill: "#111"}, name);
    
    
  });
}

drawPanel({id: "a", series: [aDcn, aHcvt, aEsaed, aMsc], xTicks: xTicksStd,
  left: 217, right: 1559.5, top: 70.5, bottom: 979.5, x0: 217, pxPerMin: 8.1, y0: 971.3, y1: 112.3,
  xTickBase: 1034, xLabelX: 888, xLabelY: 1101, yLabelX: 106, yLabelY: 525, capX: 796, capY: 1168,
  legX: 240, legY: 93, legW: 385, legH: 279, legRow0: 129, legRowGap: 66, legLine0: 258, legLine1: 355, legText: 391});
drawPanel({id: "b", series: [bDcn, bHcvt, bEsaed, bMsc], xTicks: xTicksStd,
  left: 1745, right: 3045, top: 70, bottom: 978.5, x0: 1745, pxPerMin: 8.125, y0: 970, y1: 112,
  xTickBase: 1032, xLabelX: 2395, xLabelY: 1098, yLabelX: 1634, yLabelY: 524, capX: 2339, capY: 1185,
  legX: 1769, legY: 92.5, legW: 385, legH: 278, legRow0: 127, legRowGap: 66.3, legLine0: 1786, legLine1: 1882, legText: 1919});
drawPanel({id: "c", series: [cDcn, cHcvt, cEsaed, cMsc], xTicks: xTicksStd,
  left: 213, right: 1529, top: 1218, bottom: 2110, x0: 213, pxPerMin: 7.94, y0: 2102, y1: 1260,
  xTickBase: 2165, xLabelX: 871, xLabelY: 2230, yLabelX: 104, yLabelY: 1665, capX: 796, capY: 2329,
  legX: 236, legY: 1241, legW: 377, legH: 273, legRow0: 1275, legRowGap: 65.1, legLine0: 252, legLine1: 347, legText: 383});
drawPanel({id: "d", series: [dDcn, dHcvt, dEsaed, dMsc], xTicks: xTicksLong,
  left: 1742, right: 3060, top: 1218, bottom: 2110.5, x0: 1742, pxPerMin: 3.772, y0: 2102.3, y1: 1259.7,
  xTickBase: 2165, xLabelX: 2400, xLabelY: 2230, yLabelX: 1631, yLabelY: 1665, capX: 2326, capY: 2314,
  legX: 1765, legY: 1241, legW: 377, legH: 273, legRow0: 1275, legRowGap: 65.1, legLine0: 1781, legLine1: 1876, legText: 1912});
</script>
</body>
</html>
